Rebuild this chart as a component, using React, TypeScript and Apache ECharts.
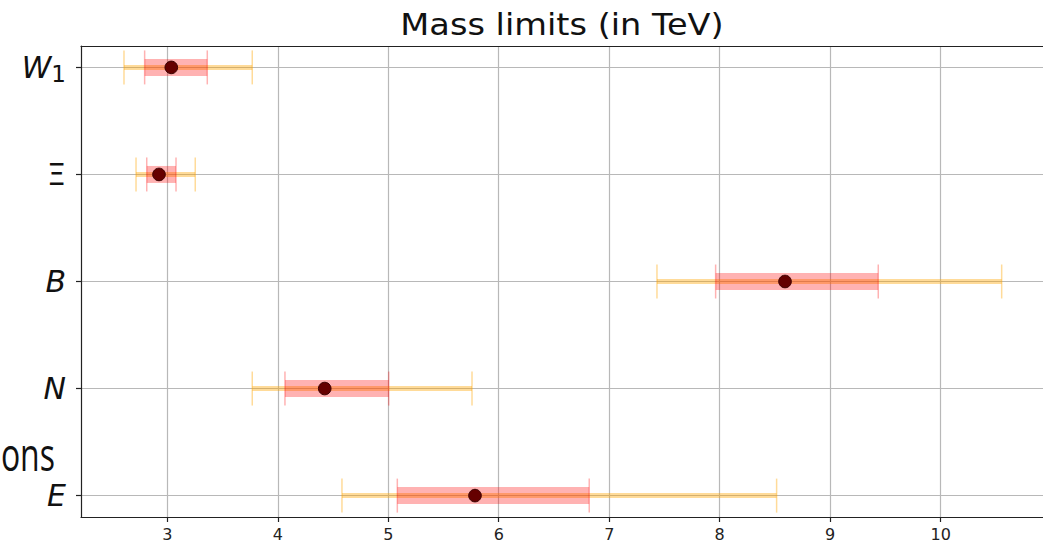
import React, { useEffect, useRef } from "react";
import * as echarts from "echarts";

// Categories from top to bottom
const categories = ["W_1", "Ξ", "B", "N", "E"];
// Central values (TeV)
const centers = [3.036, 2.925, 8.591, 4.425, 5.785];
// Inner (red) band
const innerLow = [2.795, 2.814, 7.963, 4.065, 5.082];
const innerHigh = [3.362, 3.079, 9.435, 5.004, 6.819];
// Outer (orange) band
const outerLow = [2.608, 2.717, 7.432, 3.769, 4.581];
const outerHigh = [3.769, 3.253, 10.552, 5.758, 8.515];
// Axis ticks
const xTicks = [3, 4, 5, 6, 7, 8, 9, 10];
const yTicks = [0, 1, 2, 3, 4];

const title = "Mass limits (in TeV)";
const sideText = "ons";

export default function App() {
  const ref = useRef<HTMLDivElement>(null);
  useEffect(() => {
    if (!ref.current) return;
    const chart = echarts.init(ref.current, null, { renderer: "svg" });
    const n = categories.length;
    const data = categories.map((_, i) => [
      n - 1 - i,
      centers[i],
      innerLow[i],
      innerHigh[i],
      outerLow[i],
      outerHigh[i],
    ]);
    const labelFor = (v: number) => {
      const idx = n - 1 - Math.round(v);
      const c = categories[idx];
      if (c === undefined) return "";
      if (c.includes("_")) {
        const [a, b] = c.split("_");
        return `{it|${a}}{sub|${b}}`;
      }
      if (c === "Ξ") return `{up|${c}}`;
      return `{it|${c}}`;
    };
    const axisColor = "#222";
    chart.setOption({
      animation: false,
      grid: { left: 81, right: 0, top: 46, bottom: 26, containLabel: false },
      graphic: [
        {
          type: "text",
          x: 562,
          y: 25,
          scaleX: 1.12,
          style: {
            text: title,
            font: "30px 'DejaVu Sans'",
            fill: "#111",
            textAlign: "center",
            textVerticalAlign: "middle",
          },
        },
        {
          type: "text",
          x: 55,
          y: 453,
          scaleY: 1.45,
          style: {
            text: sideText,
            font: "32px 'Open Sans'",
            fill: "#111",
            textAlign: "right",
            textVerticalAlign: "middle",
          },
        },
      ],
      xAxis: [
        {
          type: "value",
          min: 2.219,
          max: 10.926,
          position: "bottom",
          axisLine: { show: true, onZero: false, lineStyle: { color: axisColor, width: 1.2 } },
          axisTick: {
            show: true,
            length: 5,
            customValues: xTicks,
            lineStyle: { color: axisColor, width: 1.2 },
          },
          axisLabel: {
            customValues: xTicks,
            color: "#222",
            fontFamily: "DejaVu Sans",
            fontSize: 16,
            margin: 9,
          },
          splitLine: { show: true, lineStyle: { color: "#b8b8b8", width: 1.2 } },
        },
        {
          type: "value",
          min: 2.219,
          max: 10.926,
          position: "top",
          axisLine: { show: true, onZero: false, lineStyle: { color: axisColor, width: 1.2 } },
          axisTick: { show: false },
          axisLabel: { show: false },
          splitLine: { show: false },
        },
      ],
      yAxis: {
        type: "value",
        min: -0.2,
        max: 4.2,
        axisLine: { show: true, onZero: false, lineStyle: { color: axisColor, width: 1.2 } },
        axisTick: {
          show: true,
          length: 5,
          customValues: yTicks,
          lineStyle: { color: axisColor, width: 1.2 },
        },
        axisLabel: {
          customValues: yTicks,
          margin: 15,
          formatter: (v: number) => labelFor(v),
          rich: {
            it: {
              fontFamily: "DejaVu Sans",
              fontStyle: "italic",
              fontSize: 30,
              lineHeight: 36,
              color: "#111",
            },
            up: {
              fontFamily: "DejaVu Sans",
              fontSize: 30,
              lineHeight: 36,
              color: "#111",
            },
            sub: {
              fontFamily: "DejaVu Sans",
              fontSize: 23,
              lineHeight: 14,
              verticalAlign: "bottom",
              color: "#111",
            },
          },
        },
        splitLine: { show: true, lineStyle: { color: "#b8b8b8", width: 1.2 } },
      },
      series: [
        {
          type: "custom",
          xAxisIndex: 0,
          data,
          encode: { x: [1, 2, 3, 4, 5], y: 0 },
          renderItem: (params: any, api: any) => {
            const y = api.value(0);
            const c = api.coord([api.value(1), y]);
            const r0 = api.coord([api.value(2), y]);
            const r1 = api.coord([api.value(3), y]);
            const o0 = api.coord([api.value(4), y]);
            const o1 = api.coord([api.value(5), y]);
            const cy = c[1];
            const capH = 17;
            const orange = "rgba(255,165,0,0.4)";
            const red = "rgba(255,0,0,0.3)";
            return {
              type: "group",
              children: [
                {
                  type: "line",
                  shape: { x1: o0[0], y1: cy, x2: o1[0], y2: cy },
                  style: { stroke: orange, lineWidth: 5 },
                },
                {
                  type: "line",
                  shape: { x1: o0[0], y1: cy - capH, x2: o0[0], y2: cy + capH },
                  style: { stroke: orange, lineWidth: 1.5 },
                },
                {
                  type: "line",
                  shape: { x1: o1[0], y1: cy - capH, x2: o1[0], y2: cy + capH },
                  style: { stroke: orange, lineWidth: 1.5 },
                },
                {
                  type: "rect",
                  shape: { x: r0[0], y: cy - 8.5, width: r1[0] - r0[0], height: 17 },
                  style: { fill: red },
                },
                {
                  type: "line",
                  shape: { x1: r0[0], y1: cy - capH, x2: r0[0], y2: cy + capH },
                  style: { stroke: red, lineWidth: 1.5 },
                },
                {
                  type: "line",
                  shape: { x1: r1[0], y1: cy - capH, x2: r1[0], y2: cy + capH },
                  style: { stroke: red, lineWidth: 1.5 },
                },
                {
                  type: "circle",
                  shape: { cx: c[0], cy, r: 6.3 },
                  style: { fill: "#650000", stroke: "#3a0000", lineWidth: 1 },
                },
              ],
            };
          },
        },
      ],
    });
    return () => chart.dispose();
  }, []);
  return (
    <div
      ref={ref}
      style={{ position: "fixed", left: 0, top: 0, width: 1043, height: 543, background: "#fff" }}
    />
  );
}
